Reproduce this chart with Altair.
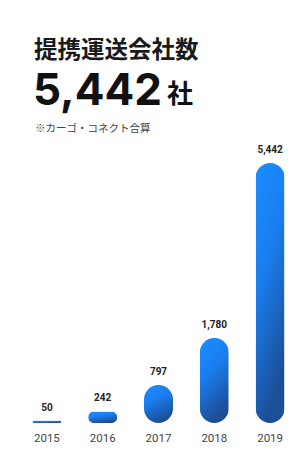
import altair as alt
import pandas as pd

years = ["2015", "2016", "2017", "2018", "2019"]
values = [50, 242, 797, 1780, 5442]

title_text = "提携運送会社数"
total_text = "5,442"
unit_text = "社"
note_text = "※カーゴ・コネクト合算"

df = pd.DataFrame({"year": years, "value": values})

grad = alt.Gradient(
    gradient="linear",
    stops=[
        alt.GradientStop(color="#1a8dff", offset=0),
        alt.GradientStop(color="#1a7ef0", offset=0.45),
        alt.GradientStop(color="#1c4f98", offset=1),
    ],
    x1=0, x2=0.35, y1=0, y2=1,
)

x_enc = alt.X(
    "year:N",
    sort=years,
    scale=alt.Scale(range=[11, 290], paddingInner=0, paddingOuter=0),
    axis=alt.Axis(
        title=None, domain=False, ticks=False, labelAngle=0,
        labelFontSize=11.5, labelColor="#444444", labelFont="Roboto",
        labelPadding=9,
    ),
)
y_enc = alt.Y("value:Q", scale=alt.Scale(domain=[0, 8690], nice=False), axis=None)

base = alt.Chart(df)

bars = base.mark_bar(size=29, cornerRadius=14.5, color=grad).encode(x=x_enc, y=y_enc)

labels = base.mark_text(
    baseline="bottom", dy=-8, fontSize=10, fontWeight="bold",
    color="#222222", font="Roboto",
).encode(x=x_enc, y=y_enc, text=alt.Text("value:Q", format=","))

title_mark = alt.Chart(pd.DataFrame({"t": [title_text]})).mark_text(
    align="left", baseline="middle", fontSize=23.5, fontWeight="bold",
    color="#1a1a1a", font="Noto Sans CJK JP",
).encode(x=alt.value(26), y=alt.value(43), text="t:N")

total_mark = alt.Chart(pd.DataFrame({"t": [total_text]})).mark_text(
    align="left", baseline="alphabetic", fontSize=44, fontWeight="bold",
    color="#111111", font="Inter",
).encode(x=alt.value(25), y=alt.value(97), text="t:N")

unit_mark = alt.Chart(pd.DataFrame({"t": [unit_text]})).mark_text(
    align="left", baseline="alphabetic", fontSize=26, fontWeight="bold",
    color="#111111", font="Noto Sans CJK JP",
).encode(x=alt.value(159), y=alt.value(95), text="t:N")

note_mark = alt.Chart(pd.DataFrame({"t": [note_text]})).mark_text(
    align="left", baseline="middle", fontSize=10.5,
    color="#444444", font="Noto Sans CJK JP",
).encode(x=alt.value(27), y=alt.value(121), text="t:N")

chart = (
    alt.layer(bars, labels, title_mark, total_mark, unit_mark, note_mark)
    .properties(
        width=285, height=415,
        autosize=alt.AutoSizeParams(type="none"),
        padding={"left": 0, "top": 0, "right": 0, "bottom": 40},
        background="#ffffff",
    )
    .configure_view(stroke=None)
)

chart.save("out.html", embed_options={"renderer": "svg", "actions": False})
